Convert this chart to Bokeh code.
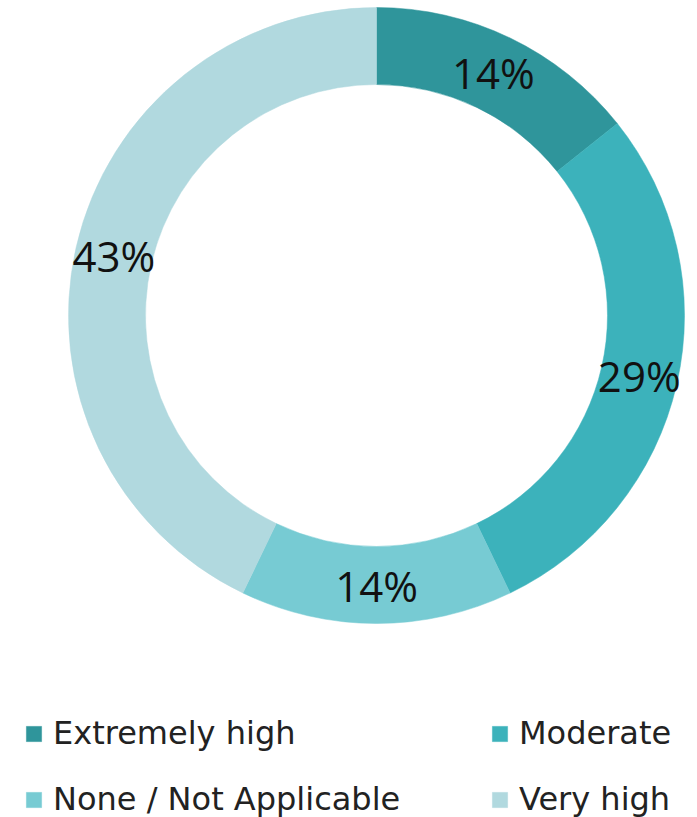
import math
from bokeh.plotting import figure
from bokeh.models import ColumnDataSource, Legend, LegendItem
from bokeh.core.properties import value
from bokeh.embed import file_html
from bokeh.resources import INLINE

categories = ["Extremely high", "Moderate", "None / Not Applicable", "Very high"]
counts = [1, 2, 1, 3]
labels = ["14%", "29%", "14%", "43%"]
colors = ["#2f959b", "#3cb2bb", "#77cbd3", "#b1d9df"]

W, H = 697, 817
cx, cy = 376, H - 315
r_out, r_in = 308, 231
r_lab = (r_out + r_in) / 2

total = sum(counts)
starts, ends, lx, ly = [], [], [], []
acc = 0
for c in counts:
    a0 = acc / total
    acc += c
    a1 = acc / total
    starts.append(math.pi / 2 - a0 * 2 * math.pi)
    ends.append(math.pi / 2 - a1 * 2 * math.pi)
    mid = math.pi / 2 - (a0 + a1) / 2 * 2 * math.pi
    lx.append(cx + r_lab * math.cos(mid))
    ly.append(cy + r_lab * math.sin(mid))

src = ColumnDataSource(dict(cat=categories, start=starts, end=ends, color=colors,
                            lx=lx, ly=ly, lab=labels))

p = figure(width=W, height=H, x_range=(0, W), y_range=(0, H),
           output_backend="svg", toolbar_location=None, min_border=0)
p.axis.visible = False
p.grid.visible = False
p.outline_line_color = None
p.background_fill_color = "white"

renderers = []
for i in range(len(categories)):
    r = p.annular_wedge(x=cx, y=cy, inner_radius=r_in, outer_radius=r_out,
                        start_angle=starts[i], end_angle=ends[i], direction="clock",
                        fill_color=colors[i], line_color=colors[i], line_width=0.5)
    renderers.append(r)

p.text(x="lx", y="ly", text="lab", source=src, text_align="center",
       text_baseline="middle", text_font=value("Open Sans"),
       text_font_size="42px", text_color="#111111")


def make_legend(idx, x):
    lg = Legend(items=[LegendItem(label=categories[i], renderers=[renderers[i]]) for i in idx],
                location=(x, -1), orientation="vertical")
    lg.label_text_font = "DejaVu Sans"
    lg.label_text_font_size = "32px"
    lg.label_text_color = "#222222"
    lg.glyph_width = 19
    lg.glyph_height = 19
    lg.label_standoff = 10
    lg.label_height = 36
    lg.spacing = 28
    lg.padding = 0
    lg.margin = 0
    lg.border_line_color = None
    lg.background_fill_alpha = 0
    p.add_layout(lg, "center")


make_legend([0, 2], 24)
make_legend([1, 3], 490)

open("out.html", "w").write(file_html(p, INLINE))
